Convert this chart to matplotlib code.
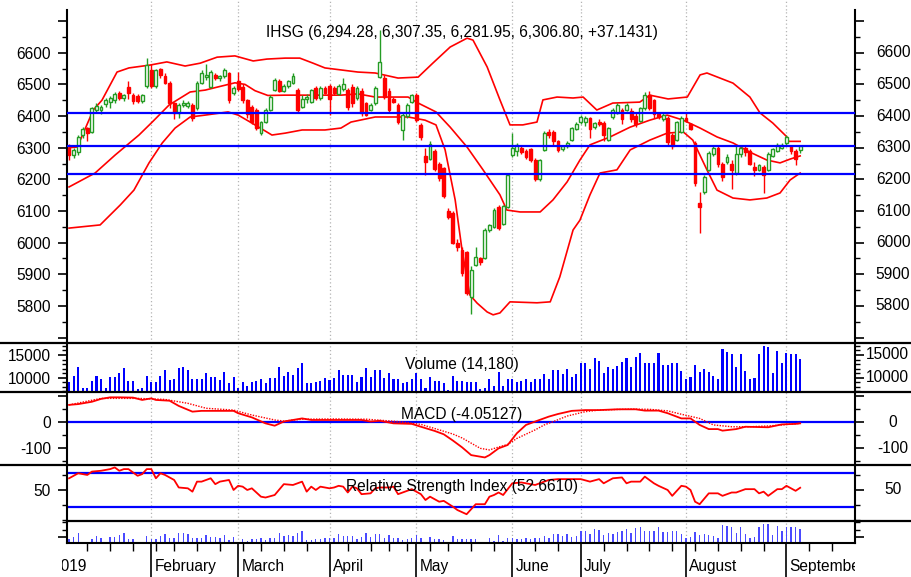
import matplotlib
matplotlib.use("Agg")
import matplotlib.pyplot as plt
import matplotlib.transforms as mtransforms
from matplotlib.lines import Line2D
from matplotlib.ticker import MultipleLocator, FixedLocator

plt.rcParams['font.family'] = ['Liberation Sans', 'DejaVu Sans']

# DATA
opens = [6298, 6276, 6285, 6340, 6362, 6350, 6420, 6420, 6438, 6445,
         6450, 6472, 6458, 6492, 6468, 6462, 6447, 6495, 6545, 6495,
         6548, 6528, 6505, 6440, 6410, 6435, 6432, 6435, 6425, 6505,
         6522, 6492, 6530, 6520, 6525, 6535, 6472, 6510, 6492, 6450,
         6430, 6420, 6346, 6382, 6420, 6482, 6512, 6480, 6495, 6505,
         6482, 6430, 6455, 6445, 6490, 6457, 6490, 6495, 6490, 6470,
         6485, 6482, 6492, 6457, 6480, 6440, 6420, 6440, 6523, 6520,
         6480, 6455, 6435, 6356, 6400, 6445, 6466, 6372, 6275, 6265,
         6290, 6250, 6235, 6100, 6095, 6000, 5977, 5970, 5829, 5930,
         5950, 5952, 6040, 6050, 6113, 6060, 6113, 6276, 6290, 6300,
         6290, 6295, 6262, 6200, 6293, 6350, 6350, 6320, 6295, 6305,
         6324, 6360, 6380, 6380, 6395, 6365, 6382, 6378, 6324, 6397,
         6410, 6420, 6420, 6415, 6400, 6385, 6426, 6466, 6450, 6405,
         6390, 6394, 6340, 6324, 6350, 6395, 6375, 6315, 6125, 6160,
         6230, 6280, 6300, 6250, 6255, 6250, 6220, 6280, 6300, 6290,
         6240, 6230, 6239, 6230, 6275, 6290, 6300, 6315, 6305, 6290,
         6294.28]
highs = [6312, 6300, 6340, 6366, 6366, 6430, 6440, 6436, 6458, 6462,
         6475, 6478, 6470, 6510, 6472, 6470, 6470, 6582, 6565, 6550,
         6552, 6536, 6510, 6445, 6440, 6450, 6448, 6440, 6510, 6545,
         6565, 6545, 6535, 6530, 6552, 6540, 6495, 6540, 6500, 6455,
         6435, 6425, 6385, 6425, 6465, 6520, 6518, 6500, 6515, 6535,
         6490, 6465, 6470, 6485, 6495, 6495, 6495, 6500, 6495, 6500,
         6520, 6490, 6500, 6495, 6490, 6445, 6440, 6495, 6672, 6530,
         6490, 6460, 6440, 6410, 6440, 6470, 6472, 6378, 6300, 6320,
         6295, 6255, 6240, 6110, 6100, 6010, 5985, 5975, 5925, 5985,
         5955, 6045, 6060, 6110, 6118, 6120, 6218, 6345, 6315, 6305,
         6295, 6300, 6268, 6265, 6352, 6360, 6355, 6325, 6310, 6322,
         6365, 6382, 6402, 6400, 6398, 6382, 6390, 6385, 6365, 6425,
         6440, 6425, 6440, 6425, 6410, 6430, 6475, 6478, 6455, 6410,
         6410, 6400, 6345, 6385, 6400, 6410, 6378, 6320, 6160, 6215,
         6290, 6310, 6305, 6255, 6280, 6260, 6310, 6310, 6305, 6295,
         6255, 6250, 6245, 6285, 6300, 6315, 6315, 6340, 6310, 6295,
         6307.35]
lows = [6262, 6268, 6278, 6330, 6320, 6345, 6410, 6405, 6430, 6425,
        6440, 6452, 6448, 6455, 6438, 6440, 6442, 6490, 6488, 6490,
        6520, 6500, 6425, 6390, 6395, 6428, 6425, 6385, 6420, 6500,
        6515, 6488, 6515, 6512, 6520, 6440, 6465, 6480, 6440, 6395,
        6375, 6355, 6340, 6378, 6415, 6478, 6475, 6475, 6490, 6500,
        6410, 6425, 6440, 6440, 6450, 6450, 6470, 6404, 6468, 6465,
        6480, 6420, 6430, 6450, 6400, 6400, 6415, 6435, 6520, 6455,
        6410, 6440, 6375, 6325, 6395, 6440, 6380, 6325, 6215, 6260,
        6225, 6195, 6140, 6075, 5995, 5975, 5895, 5835, 5775, 5925,
        5930, 5948, 6035, 6045, 6040, 6055, 6110, 6270, 6275, 6280,
        6265, 6255, 6195, 6195, 6290, 6330, 6310, 6285, 6290, 6300,
        6320, 6355, 6375, 6370, 6330, 6360, 6370, 6320, 6320, 6392,
        6405, 6375, 6415, 6380, 6365, 6380, 6420, 6420, 6395, 6390,
        6385, 6310, 6295, 6320, 6345, 6380, 6355, 6180, 6030, 6155,
        6225, 6275, 6240, 6195, 6250, 6170, 6215, 6270, 6275, 6245,
        6210, 6225, 6156, 6225, 6270, 6285, 6295, 6310, 6280, 6245,
        6281.95]
closes = [6276, 6292, 6335, 6360, 6348, 6425, 6432, 6428, 6452, 6458,
          6470, 6458, 6466, 6472, 6446, 6448, 6465, 6560, 6495, 6545,
          6530, 6505, 6440, 6410, 6435, 6440, 6442, 6394, 6505, 6535,
          6530, 6540, 6520, 6526, 6545, 6450, 6490, 6485, 6450, 6405,
          6382, 6362, 6382, 6420, 6460, 6514, 6480, 6495, 6510, 6525,
          6420, 6455, 6460, 6482, 6457, 6490, 6472, 6455, 6472, 6495,
          6500, 6430, 6440, 6490, 6410, 6404, 6435, 6490, 6570, 6460,
          6420, 6445, 6382, 6404, 6435, 6466, 6387, 6334, 6255, 6312,
          6232, 6205, 6148, 6082, 6000, 5985, 5904, 5841, 5914, 5955,
          5940, 6040, 6055, 6103, 6046, 6115, 6214, 6299, 6310, 6285,
          6270, 6262, 6200, 6260, 6347, 6340, 6320, 6293, 6305, 6315,
          6362, 6375, 6397, 6395, 6360, 6378, 6375, 6340, 6362, 6419,
          6435, 6390, 6435, 6390, 6375, 6425, 6466, 6425, 6405, 6398,
          6402, 6318, 6305, 6382, 6395, 6385, 6360, 6189, 6113, 6208,
          6283, 6300, 6250, 6208, 6272, 6230, 6280, 6300, 6285, 6250,
          6230, 6245, 6214, 6280, 6295, 6310, 6308, 6334, 6288, 6265,
          6306.80]
volume = [8970, 10370, 12430, 7650, 7650, 9265, 10440, 9630, 7650, 10070,
          10070, 10955, 12060, 9265, 9265, 7500, 7650, 10440, 8970, 8970,
          10440, 11690, 9485, 9630, 12060, 12430, 11690, 9700, 9700, 9700,
          10955, 10070, 10070, 9485, 11175, 8750, 10070, 7650, 8970, 8235,
          9120, 9265, 9700, 8750, 9850, 9850, 12430, 10440, 11175, 10590,
          12060, 13160, 8750, 8750, 9120, 9340, 9850, 9485, 9850, 11690,
          10590, 10590, 10590, 8970, 10220, 12060, 10220, 11690, 11690, 9850,
          10955, 9700, 9700, 8750, 8970, 9700, 10955, 9700, 7650, 10070,
          9340, 9340, 8750, 7280, 10440, 9340, 9265, 8970, 8970, 8970,
          7430, 7650, 9630, 8235, 11320, 8235, 9630, 9630, 8970, 9265,
          9630, 8970, 9630, 9630, 10810, 9630, 11690, 11690, 10810, 11910,
          10070, 10810, 13160, 13160, 11910, 14260, 13675, 10955, 12430, 11910,
          12650, 13530, 14260, 12430, 14630, 15510, 13160, 13160, 13160, 15510,
          12790, 12790, 13160, 13160, 11545, 9700, 10220, 12790, 11320, 11910,
          11320, 10440, 9630, 16250, 15730, 15145, 12430, 15145, 11545, 9700,
          10000, 15145, 17060, 16690, 10955, 15880, 13160, 15510, 15145, 15145,
          14180]

upper_idx = [0, 1.8, 5.3, 7.2, 10.5, 13.1, 17.7, 21.4, 25.4, 28.7, 32.4, 36.3, 40.3,
             43.3, 47.3, 50.5, 53.4, 56, 63.2, 67, 72, 76.4, 79.6, 83.4, 87.1, 88.4,
             91.5, 94.3, 96.5, 99.3, 102.4, 103.7, 106.8, 110.3, 112.5, 115.5, 119,
             124.9, 127.1, 131.1, 135.3, 138.1, 139.6, 145.3, 149, 151.2, 154, 157.1,
             157.5, 160]
upper_band = [6300, 6302, 6419, 6450, 6539, 6552, 6561, 6571, 6558, 6567, 6586, 6590, 6574,
              6580, 6583, 6583, 6567, 6552, 6539, 6536, 6520, 6523, 6567, 6618, 6646, 6640,
              6555, 6451, 6372, 6372, 6381, 6451, 6460, 6457, 6460, 6419, 6441,
              6444, 6466, 6454, 6460, 6530, 6536, 6504, 6460, 6410, 6378, 6334,
              6320, 6320]
middle_idx = [0, 5.7, 10.1, 15.3, 18.2, 21.9, 26.5, 29.8, 32.6, 36.3, 38.5, 40.7, 43.5,
              47.3, 53.4, 59.5, 63.2, 67, 74.2, 76.4, 80.3, 83.4, 87.1, 90.6, 94.3, 95.8,
              98.7, 103.1, 105.9, 109, 111.8, 114, 118.4, 122.8, 127.1, 130.9, 134.4,
              138.1, 141.8, 145.3, 149, 152.7, 155.6, 157.8, 160]
middle_band = [6176, 6220, 6277, 6340, 6381, 6435, 6476, 6482, 6492, 6505, 6500, 6480, 6465,
               6466, 6466, 6466, 6470, 6460, 6460, 6441, 6413, 6365, 6302, 6230, 6151, 6103,
               6097, 6097, 6135, 6192, 6261, 6309, 6334, 6365, 6387, 6403, 6387,
               6362, 6334, 6315, 6286, 6261, 6252, 6264, 6274]
lower_idx = [0, 6.8, 11.2, 14.2, 17.5, 20.4, 23.2, 26.5, 29.8, 34.8, 37, 40, 44.4, 47.3,
             51, 56, 59.5, 61.7, 67, 74.2, 77.9, 80.3, 82.3, 84.5, 86, 87.7, 89.3, 91.5,
             92.8, 94.3, 96.5, 102.4, 105.3, 107.4, 110.3, 111.8, 114, 116.2, 119.9,
             122.8, 127.1, 130.9, 134.4, 136.5, 139.6, 141.8, 145.3, 149, 152.7, 155.6,
             157.8, 160]
lower_band = [6046, 6056, 6119, 6166, 6252, 6315, 6362, 6397, 6403, 6413, 6403, 6378, 6340, 6346,
              6356, 6356, 6362, 6381, 6397, 6397, 6387, 6372, 6293, 6135, 5977, 5835, 5809, 5781,
              5772, 5778, 5813, 5810, 5813, 5892, 6040, 6071, 6151, 6220, 6230,
              6293, 6324, 6346, 6350, 6324, 6230, 6166, 6141, 6135, 6141, 6157,
              6198, 6220]
levels = [6410, 6305, 6218]

macd_idx = [0, 2, 5, 7, 9, 11, 14, 16, 18, 19, 22, 24, 27, 29, 36, 37, 40, 43, 45, 47, 49,
            51, 53, 58, 64, 66, 68, 71, 75, 77, 80, 82, 84, 86, 88, 91, 92, 94, 96, 98, 100,
            102, 105, 107, 110, 113, 116, 120, 124, 126, 129, 131, 134, 136, 138, 140, 142,
            143, 146, 148, 153, 156, 159, 160]
macd_line = [67, 70, 79, 90, 96, 96, 95, 86, 92, 86, 83, 63, 41, 44, 44, 35, 19, -4, -13, 3, 9,
             15, 9, 9, 9, 3, 6, -4, -6, -17, -33, -46, -70, -96, -126, -135, -126, -100, -87, -42, -10,
             3, 22, 32, 44, 47, 47, 50, 50, 45, 45, 35, 15, 15, -10, -26, -26,
             -32, -26, -17, -19, -8, -6, -4.05]
signal_idx = [0, 7, 15, 21, 26, 30, 36, 40, 45, 47, 51, 58, 65, 72, 77, 81, 84, 86, 88, 90,
              92, 94, 96, 98, 102, 104, 106, 109, 113, 116, 123, 127, 131, 134, 138, 141, 145,
              149, 153, 156, 160]
signal_line = [67, 92, 92, 88, 73, 54, 47, 28, 9, 5, 12, 13, 12, 3, -8, -29, -45, -60, -80, -100,
               -106, -95, -85, -62, -29, -10, 3, 24, 41, 47, 51, 50, 44, 31, 15, -10, -17,
               -17, -14, -10, -4]

rsi_idx = [0, 2, 4, 5, 7, 9, 10, 11, 12, 13, 15, 16, 17, 18, 19, 20, 21, 23, 24, 26, 27, 28, 29,
           31, 32, 33, 35, 36, 37, 38, 39, 40, 42, 43, 45, 47, 49, 51, 52, 53, 54, 55, 57, 58,
           59, 60, 61, 62, 63, 64, 66, 67, 68, 70, 71, 72, 74, 75, 77, 78, 79, 81, 82, 84, 85,
           87, 89, 91, 92, 93, 94, 95, 97, 99, 101, 102, 105, 107, 110, 112, 114, 116, 117, 119,
           121, 122, 123, 125, 126, 128, 129, 131, 132, 134, 135, 136, 137, 138, 140, 142, 143,
           145, 146, 148, 150, 151, 152, 153, 155, 156, 157, 159, 160]
rsi = [64, 70, 68, 72, 73, 75, 77, 73, 75, 75, 67, 69, 75, 75, 64, 70, 68, 62, 53, 52, 48, 60, 60,
       64, 57, 60, 62, 50, 55, 54, 50, 52, 42, 41, 44, 57, 56, 60, 48, 54, 50, 54, 52, 53,
       55, 54, 47, 54, 52, 45, 46, 52, 53, 53, 54, 45, 49, 51, 45, 38, 42, 36, 37, 30, 26,
       21, 33, 33, 42, 44, 47, 44, 58, 59, 57, 56, 62, 63, 63, 63, 60, 63, 58, 64,
       65, 58, 60, 60, 66, 58, 55, 50, 43, 55, 54, 50, 36, 33, 46, 46, 43,
       47, 47, 51, 51, 46, 48, 43, 51, 51, 55, 49, 52.66]

month_idx = [18, 37, 57, 76, 97, 112, 135, 157]
month_names = ['February', 'March', 'April', 'May', 'June', 'July', 'August', 'September']
week_idx = [4, 9, 14, 19, 23, 28, 33, 38, 42, 47, 52, 61, 66, 70, 74, 79, 83, 88, 93,
            102, 107, 117, 122, 127, 132, 137, 142, 147, 152, 162, 167]

# STYLE
RED = '#ff0000'
GREEN = '#249c24'
BLUE = '#0000ff'
GRID = '#b4b4b4'
FS = 11.2
W, H = 911, 577
XLIM = (-0.45, 172)

fig = plt.figure(figsize=(W / 100, H / 100), dpi=100)


def add_panel(top, bottom, left=67, right=855):
    return fig.add_axes([left / W, 1 - bottom / H, (right - left) / W, (bottom - top) / H])


def style_panel(ax, ylim):
    ax.set_xlim(*XLIM)
    ax.set_ylim(*ylim)
    ax.spines['top'].set_visible(False)
    ax.spines['bottom'].set_visible(False)
    ax.spines['left'].set_linewidth(1.5)
    ax.spines['right'].set_linewidth(1.5)
    ax.tick_params(axis='x', which='both', bottom=False, labelbottom=False)
    ax.tick_params(axis='y', which='major', left=True, right=True, direction='out',
                   length=6.5, width=1.2, labelsize=FS, pad=5)
    ax.tick_params(axis='y', which='minor', left=True, right=True, direction='out',
                   length=3.8, width=1.0)
    for m in month_idx:
        ax.axvline(m, color=GRID, ls=(0, (1, 2)), lw=0.9, zorder=0)


def right_labels(ax, values, labels, x_px=893):
    tr = mtransforms.blended_transform_factory(ax.transAxes, ax.transData)
    for v, s in zip(values, labels):
        ax.text(1 + (x_px - 855) / 788, v, s, transform=tr, ha='center', va='center',
                fontsize=FS, clip_on=False)


# price panel
ax_p = add_panel(10, 343)
style_panel(ax_p, (5683, 6735))
for m in month_idx:
    ax_p.axvline(m, ymin=1, ymax=1.03, color=GRID, ls=(0, (1, 2)), lw=0.9, clip_on=False)
ax_p.plot(upper_idx, upper_band, color=RED, lw=1.2, zorder=2)
ax_p.plot(middle_idx, middle_band, color=RED, lw=1.2, zorder=2)
ax_p.plot(lower_idx, lower_band, color=RED, lw=1.2, zorder=2)
for i in range(len(closes)):
    up = closes[i] >= opens[i]
    col = GREEN if up else RED
    ax_p.vlines(i, lows[i], highs[i], color=col, lw=1.0, zorder=3)
    ax_p.bar(i, max(abs(closes[i] - opens[i]), 2), bottom=min(opens[i], closes[i]),
             width=0.62, facecolor='white' if up else RED, edgecolor=col, lw=1.0, zorder=4)
for lv in levels:
    ax_p.axhline(lv, color=BLUE, lw=1.6, zorder=5)
p_ticks = list(range(5700, 6800, 100))
ax_p.yaxis.set_major_locator(FixedLocator(p_ticks))
ax_p.set_yticklabels(['' if t in (5700, 6700) else str(t) for t in p_ticks])
ax_p.yaxis.set_minor_locator(MultipleLocator(50))
right_labels(ax_p, p_ticks[1:-1], [str(t) for t in p_ticks[1:-1]])

# volume panel
ax_v = add_panel(343, 392)
style_panel(ax_v, (6850, 17640))
ax_v.bar(range(len(volume)), [v - 6850 for v in volume], bottom=6850, width=0.45,
         color=BLUE, zorder=2)
ax_v.set_yticks([10000, 15000], ['10000', '15000'])
ax_v.yaxis.set_minor_locator(MultipleLocator(1000))
right_labels(ax_v, [10000, 15000], ['10000', '15000'], x_px=887)

# macd panel
ax_m = add_panel(392, 465)
style_panel(ax_m, (-164, 116.5))
ax_m.axhline(0, color=BLUE, lw=1.6, zorder=1)
ax_m.plot(signal_idx, signal_line, color=RED, lw=1.0, ls=(0, (1, 1)), zorder=2)
ax_m.plot(macd_idx, macd_line, color=RED, lw=1.3, zorder=3)
ax_m.set_yticks([-100, 0, 100], ['-100', '0', ''])
ax_m.yaxis.set_minor_locator(MultipleLocator(50))
right_labels(ax_m, [-100, 0], ['-100', '0'])

# rsi panel
ax_r = add_panel(465, 521)
style_panel(ax_r, (12.9, 79.9))
ax_r.axhline(70, color=BLUE, lw=1.6, zorder=1)
ax_r.axhline(30, color=BLUE, lw=1.6, zorder=1)
ax_r.plot(rsi_idx, rsi, color=RED, lw=1.3, zorder=2)
ax_r.set_yticks([50], ['50'])
ax_r.yaxis.set_minor_locator(FixedLocator([14, 32, 68]))
right_labels(ax_r, [50], ['50'])

# small volume panel
ax_b = add_panel(521, 543)
style_panel(ax_b, (7000, 18500))
ax_b.bar(range(len(volume)), [v - 7000 for v in volume], bottom=7000, width=0.3,
         color='#4a4aff', zorder=2)
ax_b.set_yticks([10000], [''])
ax_b.yaxis.set_minor_locator(FixedLocator([14000, 18000]))
ax_b.spines['bottom'].set_visible(True)
ax_b.spines['bottom'].set_linewidth(1.5)
ax_b.set_xticks(month_idx)
ax_b.set_xticks(week_idx, minor=True)
ax_b.tick_params(axis='x', which='major', bottom=True, direction='out', length=24.5, width=1.2)
ax_b.tick_params(axis='x', which='minor', bottom=True, direction='out', length=5.5, width=1.0)

# month labels (clipped like the original)
ax_l = fig.add_axes([62 / W, 0, (855 - 62) / W, 32 / H])
px_per_unit = 788 / (XLIM[1] - XLIM[0])
ax_l.set_xlim(XLIM[0] - 5 / px_per_unit, XLIM[1])
ax_l.set_ylim(0, 1)
ax_l.axis('off')
ax_l.text(3.9, 0.34, '2019', ha='right', va='center', fontsize=FS, clip_on=True)
for m, name in zip(month_idx, month_names):
    ax_l.text(m + 0.7, 0.34, name, ha='left', va='center', fontsize=FS, clip_on=True)

# separators
for y, x0 in [(343, 0), (392, 0), (465, 0), (521, 67)]:
    fig.add_artist(Line2D([x0 / W, 1], [1 - y / H, 1 - y / H], color='black', lw=1.6))

# panel captions
fig.text(462 / W, 1 - 33 / H, 'IHSG (6,294.28, 6,307.35, 6,281.95, 6,306.80, +37.1431)',
         ha='center', va='center', fontsize=FS)
fig.text(462 / W, 1 - 365 / H, 'Volume (14,180)', ha='center', va='center', fontsize=FS)
fig.text(462 / W, 1 - 414 / H, 'MACD (-4.05127)', ha='center', va='center', fontsize=FS)
fig.text(462 / W, 1 - 487 / H, 'Relative Strength Index (52.6610)', ha='center', va='center',
         fontsize=FS)

fig.savefig('out.png', dpi=100)
